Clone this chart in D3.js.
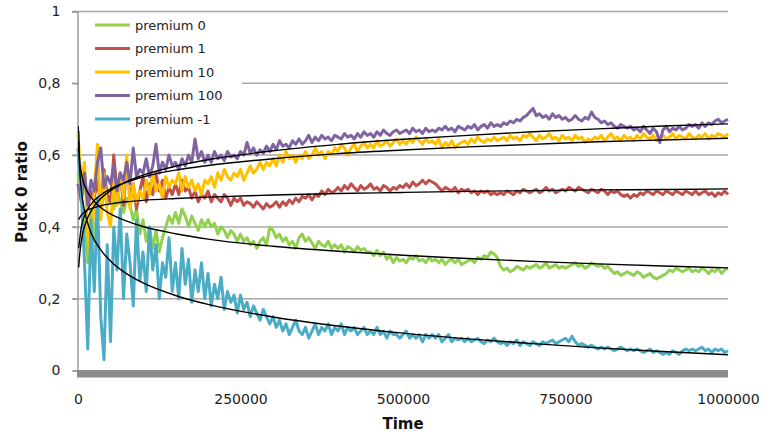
<!DOCTYPE html>
<html><head><meta charset="utf-8">
<script src="https://cdn.jsdelivr.net/npm/d3@7/dist/d3.min.js"></script>
<style>body{margin:0;background:#fff}svg{display:block}</style>
</head><body><svg id="c" width="770" height="434"></svg>
<script>
const seriesNames = ["premium 0","premium 1","premium 10","premium 100","premium -1"];
const seriesColors = ["#92D050","#C0504D","#FFC000","#8064A2","#4BACC6"];
const timeStep = 5000; // one reading every 5000 time units, 0..1000000

const premium0 = [
0.55,0.48,0.40,0.30,0.45,0.36,0.48,0.44,0.50,0.46,
0.48,0.45,0.50,0.47,0.44,0.48,0.46,0.42,0.45,0.38,
0.42,0.36,0.40,0.34,0.39,0.33,0.37,0.40,0.43,0.41,
0.44,0.41,0.45,0.43,0.40,0.43,0.41,0.39,0.42,0.40,
0.42,0.40,0.41,0.38,0.40,0.39,0.37,0.39,0.38,0.36,
0.38,0.36,0.37,0.35,0.36,0.34,0.36,0.37,0.35,0.40,
0.39,0.37,0.38,0.36,0.37,0.35,0.36,0.34,0.37,0.38,
0.36,0.37,0.355,0.34,0.36,0.35,0.345,0.36,0.34,0.35,
0.34,0.35,0.33,0.345,0.34,0.33,0.345,0.335,0.34,0.33,
0.33,0.32,0.335,0.32,0.33,0.31,0.32,0.30,0.315,0.305,
0.31,0.30,0.315,0.31,0.32,0.305,0.31,0.30,0.315,0.305,
0.31,0.30,0.31,0.295,0.305,0.31,0.30,0.31,0.295,0.30,
0.305,0.31,0.30,0.315,0.31,0.32,0.315,0.33,0.325,0.315,
0.29,0.28,0.285,0.275,0.28,0.29,0.285,0.28,0.29,0.285,
0.29,0.295,0.285,0.29,0.30,0.285,0.29,0.295,0.285,0.29,
0.285,0.29,0.295,0.30,0.29,0.295,0.285,0.29,0.30,0.295,
0.29,0.295,0.285,0.29,0.28,0.27,0.275,0.265,0.27,0.275,
0.27,0.265,0.275,0.27,0.26,0.265,0.27,0.26,0.255,0.26,
0.265,0.27,0.28,0.275,0.285,0.28,0.275,0.28,0.285,0.275,
0.28,0.275,0.285,0.28,0.27,0.28,0.275,0.285,0.27,0.28,0.285];

const premium1 = [
0.52,0.47,0.55,0.45,0.50,0.48,0.53,0.46,0.56,0.49,
0.47,0.60,0.50,0.55,0.46,0.58,0.48,0.52,0.45,0.50,
0.54,0.47,0.52,0.49,0.55,0.50,0.53,0.48,0.51,0.49,
0.52,0.49,0.53,0.50,0.51,0.48,0.50,0.47,0.49,0.48,
0.50,0.47,0.49,0.48,0.47,0.49,0.48,0.46,0.48,0.47,
0.48,0.46,0.47,0.465,0.455,0.47,0.46,0.45,0.465,0.455,
0.46,0.47,0.455,0.47,0.46,0.475,0.465,0.48,0.47,0.485,
0.48,0.49,0.475,0.49,0.485,0.50,0.49,0.505,0.495,0.50,
0.51,0.50,0.515,0.505,0.52,0.51,0.50,0.515,0.505,0.51,
0.52,0.505,0.51,0.50,0.515,0.51,0.50,0.51,0.505,0.515,
0.51,0.52,0.51,0.525,0.515,0.52,0.53,0.52,0.53,0.525,
0.52,0.51,0.50,0.51,0.505,0.50,0.51,0.495,0.505,0.50,
0.505,0.495,0.50,0.49,0.50,0.495,0.50,0.49,0.495,0.49,
0.495,0.49,0.50,0.495,0.49,0.50,0.495,0.505,0.50,0.495,
0.50,0.505,0.495,0.50,0.51,0.50,0.505,0.495,0.50,0.505,
0.50,0.51,0.505,0.50,0.51,0.505,0.50,0.495,0.505,0.50,
0.495,0.505,0.50,0.49,0.50,0.495,0.50,0.49,0.485,0.49,
0.48,0.49,0.485,0.495,0.49,0.50,0.495,0.49,0.50,0.495,
0.49,0.50,0.495,0.49,0.50,0.495,0.49,0.50,0.495,0.49,
0.50,0.49,0.495,0.50,0.49,0.495,0.485,0.495,0.49,0.50,0.49];

const premium10 = [
0.66,0.52,0.58,0.38,0.31,0.50,0.63,0.42,0.55,0.44,
0.40,0.52,0.46,0.55,0.48,0.60,0.45,0.52,0.47,0.50,
0.48,0.53,0.49,0.55,0.50,0.52,0.48,0.54,0.51,0.53,
0.52,0.55,0.50,0.54,0.51,0.53,0.50,0.52,0.49,0.53,
0.52,0.54,0.51,0.55,0.53,0.56,0.54,0.53,0.55,0.54,
0.56,0.53,0.55,0.57,0.55,0.56,0.58,0.56,0.58,0.57,
0.59,0.57,0.60,0.58,0.61,0.59,0.60,0.58,0.60,0.59,
0.61,0.59,0.60,0.62,0.60,0.61,0.59,0.61,0.60,0.62,
0.61,0.63,0.62,0.60,0.62,0.63,0.61,0.625,0.635,0.62,
0.63,0.62,0.64,0.625,0.63,0.64,0.625,0.635,0.645,0.63,
0.64,0.63,0.645,0.635,0.65,0.64,0.63,0.645,0.635,0.64,
0.63,0.645,0.62,0.635,0.625,0.64,0.62,0.63,0.635,0.64,
0.63,0.645,0.635,0.65,0.64,0.635,0.645,0.64,0.65,0.64,
0.645,0.65,0.64,0.655,0.645,0.65,0.64,0.655,0.65,0.66,
0.65,0.64,0.655,0.645,0.65,0.66,0.645,0.65,0.64,0.655,
0.645,0.65,0.64,0.655,0.645,0.65,0.635,0.645,0.64,0.65,
0.645,0.655,0.64,0.65,0.66,0.645,0.65,0.64,0.655,0.645,
0.65,0.64,0.655,0.645,0.66,0.65,0.645,0.655,0.64,0.65,
0.655,0.645,0.65,0.66,0.645,0.655,0.65,0.645,0.66,0.65,
0.645,0.655,0.65,0.66,0.645,0.655,0.65,0.66,0.655,0.65,0.66];

const premium100 = [
0.52,0.48,0.55,0.46,0.53,0.50,0.58,0.62,0.51,0.54,
0.52,0.57,0.50,0.55,0.53,0.58,0.52,0.62,0.54,0.56,
0.55,0.59,0.54,0.57,0.63,0.55,0.58,0.56,0.60,0.57,
0.58,0.56,0.59,0.57,0.60,0.58,0.645,0.59,0.61,0.58,
0.60,0.58,0.61,0.59,0.60,0.585,0.61,0.595,0.60,0.59,
0.61,0.60,0.635,0.605,0.62,0.60,0.615,0.605,0.625,0.61,
0.63,0.615,0.64,0.625,0.63,0.62,0.64,0.63,0.645,0.63,
0.64,0.655,0.635,0.65,0.64,0.655,0.645,0.65,0.64,0.655,
0.65,0.645,0.66,0.65,0.655,0.645,0.66,0.65,0.665,0.655,
0.66,0.65,0.665,0.655,0.67,0.66,0.655,0.665,0.67,0.66,
0.665,0.67,0.66,0.675,0.665,0.67,0.66,0.675,0.665,0.67,
0.665,0.675,0.67,0.68,0.67,0.675,0.665,0.68,0.675,0.67,
0.68,0.675,0.685,0.67,0.68,0.685,0.675,0.69,0.68,0.685,
0.68,0.69,0.685,0.695,0.69,0.70,0.695,0.705,0.71,0.72,
0.73,0.71,0.715,0.705,0.71,0.70,0.715,0.705,0.71,0.70,
0.705,0.695,0.70,0.71,0.70,0.695,0.705,0.70,0.72,0.705,
0.70,0.69,0.695,0.685,0.69,0.68,0.675,0.685,0.68,0.675,
0.68,0.67,0.675,0.665,0.68,0.67,0.66,0.675,0.665,0.635,
0.67,0.68,0.665,0.675,0.67,0.68,0.67,0.675,0.685,0.68,
0.685,0.675,0.69,0.68,0.69,0.685,0.695,0.70,0.69,0.695,0.70];

const premiumNeg1 = [
0.62,0.50,0.30,0.06,0.42,0.22,0.48,0.15,0.03,0.35,
0.08,0.40,0.28,0.45,0.20,0.38,0.30,0.18,0.42,0.25,
0.33,0.22,0.40,0.28,0.35,0.20,0.30,0.26,0.37,0.22,
0.30,0.20,0.34,0.24,0.31,0.19,0.28,0.22,0.30,0.20,
0.27,0.18,0.24,0.20,0.26,0.17,0.22,0.19,0.21,0.16,
0.21,0.17,0.19,0.15,0.18,0.16,0.14,0.17,0.15,0.13,
0.15,0.12,0.14,0.11,0.13,0.10,0.12,0.14,0.11,0.10,
0.12,0.09,0.11,0.13,0.10,0.12,0.11,0.13,0.10,0.12,
0.11,0.13,0.10,0.12,0.11,0.12,0.10,0.11,0.12,0.10,
0.11,0.10,0.12,0.10,0.11,0.09,0.11,0.10,0.10,0.09,
0.10,0.11,0.09,0.10,0.09,0.10,0.08,0.10,0.09,0.10,
0.09,0.10,0.08,0.09,0.10,0.08,0.09,0.085,0.09,0.08,
0.09,0.08,0.085,0.09,0.08,0.075,0.085,0.08,0.09,0.08,
0.075,0.08,0.07,0.08,0.075,0.085,0.07,0.08,0.075,0.07,
0.08,0.075,0.07,0.08,0.075,0.08,0.085,0.075,0.08,0.085,
0.09,0.08,0.095,0.08,0.07,0.075,0.07,0.065,0.07,0.065,
0.06,0.065,0.06,0.065,0.06,0.055,0.06,0.065,0.06,0.055,
0.06,0.055,0.06,0.055,0.05,0.055,0.06,0.05,0.055,0.05,
0.045,0.05,0.045,0.055,0.05,0.045,0.055,0.06,0.055,0.06,
0.055,0.06,0.065,0.055,0.06,0.05,0.06,0.055,0.06,0.05,0.055];

// black trend lines, read at these times
const trendTimes = [1000,2000,5000,10000,20000,35000,50000,75000,100000,150000,200000,300000,400000,500000,600000,700000,800000,900000,1000000];
const trend0   = [0.640,0.597,0.551,0.516,0.482,0.454,0.436,0.416,0.401,0.381,0.366,0.346,0.332,0.321,0.312,0.304,0.297,0.291,0.286];
const trend1   = [0.420,0.424,0.432,0.442,0.451,0.459,0.464,0.470,0.474,0.479,0.483,0.489,0.493,0.496,0.499,0.501,0.503,0.504,0.506];
const trend10  = [0.340,0.355,0.398,0.431,0.463,0.489,0.506,0.525,0.539,0.558,0.571,0.590,0.604,0.614,0.623,0.630,0.637,0.642,0.647];
const trend100 = [0.287,0.310,0.359,0.401,0.444,0.479,0.501,0.526,0.544,0.569,0.587,0.612,0.630,0.644,0.655,0.665,0.673,0.681,0.687];
const trendNeg1= [0.680,0.585,0.505,0.445,0.384,0.336,0.305,0.269,0.244,0.209,0.184,0.149,0.124,0.104,0.088,0.075,0.063,0.053,0.044];

const yTicks = [0,0.2,0.4,0.6,0.8,1];
const yTickLabels = ["0","0,2","0,4","0,6","0,8","1"];
const xTicks = [0,250000,500000,750000,1000000];
const xTickLabels = ["0","250000","500000","750000","1000000"];

const seriesData = [premium0, premium1, premium10, premium100, premiumNeg1];
const trendData = [trend0, trend1, trend10, trend100, trendNeg1];

const svg = d3.select("#c");
const FONT = "Verdana, 'DejaVu Sans', sans-serif";
const x = d3.scaleLinear().domain([0,1000000]).range([78,728]);
const y = d3.scaleLinear().domain([0,1]).range([370.5,11.5]);

// gridlines
svg.append("g").selectAll("line").data(yTicks.filter(d=>d>0)).join("line")
  .attr("x1",72).attr("x2",728).attr("y1",d=>y(d)).attr("y2",d=>y(d))
  .attr("stroke","#a9a9a9").attr("stroke-width",1.5);

// y axis
const yAxis = d3.axisLeft(y).tickValues(yTicks).tickSize(5).tickPadding(12)
  .tickFormat((d,i)=>yTickLabels[i]);
const gy = svg.append("g").attr("transform","translate(77.5,0)").call(yAxis);
gy.select(".domain").attr("stroke","#9a9a9a").attr("stroke-width",1.5);
gy.selectAll(".tick line").attr("stroke","#9a9a9a").attr("stroke-width",1.5);
gy.selectAll(".tick text").attr("font-family",FONT).attr("font-size",14).attr("fill","#222");

// x axis floor bar
svg.append("rect").attr("x",x(0)-1).attr("y",y(0)-0.5).attr("width",x(1000000)-x(0)+1).attr("height",7.5).attr("fill","#8c8c8c");
const xAxis = d3.axisBottom(x).tickValues(xTicks).tickSize(0).tickPadding(17)
  .tickFormat((d,i)=>xTickLabels[i]);
const gx = svg.append("g").attr("transform","translate(0,377)").call(xAxis);
gx.select(".domain").remove();
gx.selectAll(".tick text").attr("font-family",FONT).attr("font-size",14).attr("fill","#222");

// series
const line = d3.line().x((d,i)=>x(i*timeStep)).y(d=>y(d));
svg.append("g").selectAll("path").data(seriesData).join("path")
  .attr("d",d=>line(d)).attr("fill","none")
  .attr("stroke",(d,i)=>seriesColors[i]).attr("stroke-width",3).attr("stroke-linejoin","round");

// trend lines
const tline = d3.line().x((d,i)=>x(trendTimes[i])).y(d=>y(d)).curve(d3.curveMonotoneX);
svg.append("g").selectAll("path").data(trendData).join("path")
  .attr("d",d=>tline(d)).attr("fill","none").attr("stroke","#000").attr("stroke-width",1.4);

// legend
const lg = svg.append("g");
lg.append("rect").attr("x",79).attr("y",13).attr("width",163).attr("height",118).attr("fill","#fff");
seriesNames.forEach((n,i)=>{
  const cy = 25 + i*23.5;
  lg.append("line").attr("x1",95).attr("x2",130).attr("y1",cy).attr("y2",cy)
    .attr("stroke",seriesColors[i]).attr("stroke-width",3);
  lg.append("text").attr("x",135).attr("y",cy+4.5).text(n)
    .attr("font-family",FONT).attr("font-size",13).attr("fill","#222");
});

// axis titles
svg.append("text").attr("transform","translate(27,192) rotate(-90)").attr("text-anchor","middle")
  .attr("font-family",FONT).attr("font-weight","bold").attr("font-size",15).attr("fill","#111").text("Puck 0 ratio");
svg.append("text").attr("x",403).attr("y",429).attr("text-anchor","middle")
  .attr("font-family",FONT).attr("font-weight","bold").attr("font-size",15).attr("fill","#111").text("Time");
</script></body></html>
